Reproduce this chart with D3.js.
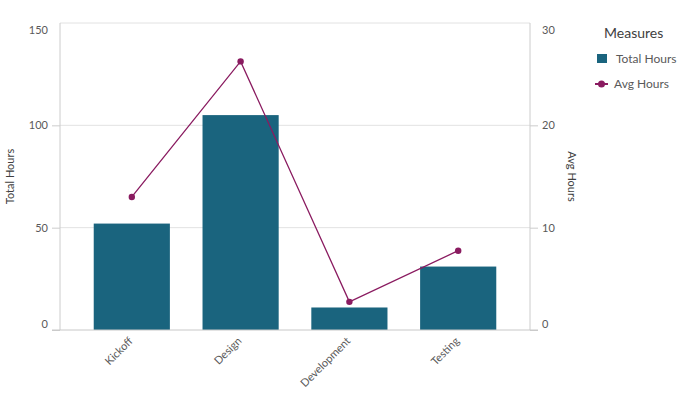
<!DOCTYPE html>
<html>
<head>
<meta charset="utf-8">
<script src="https://cdn.jsdelivr.net/npm/d3@7"></script>
<style>
  body { margin: 0; background: #fff; }
  text { font-family: Lato, "Open Sans", sans-serif; }
</style>
</head>
<body>
<div id="chart"></div>
<script>
// data
const phases = ["Kickoff", "Design", "Development", "Testing"];
const totalHours = [52, 105, 11, 31];
const avgHours = [13, 26.25, 2.75, 7.75];
const leftTicks = [0, 50, 100, 150];
const rightTicks = [0, 10, 20, 30];

const W = 688, H = 395;
const plot = { left: 60, right: 530, top: 23, bottom: 330 };

const barColor = "#1a647e";
const lineColor = "#8a1b60";

const svg = d3.select("#chart")
    .append("svg")
    .attr("width", W)
    .attr("height", H);

const x = d3.scaleBand()
    .domain(phases)
    .range([plot.left, plot.right])
    .paddingInner(0.3)
    .paddingOuter(0.31);

const yL = d3.scaleLinear().domain([0, 150]).range([plot.bottom, plot.top]);
const yR = d3.scaleLinear().domain([0, 30]).range([plot.bottom, plot.top]);

// gridlines
svg.append("g")
    .selectAll("line")
    .data([50, 100, 150])
    .join("line")
    .attr("x1", plot.left).attr("x2", plot.right)
    .attr("y1", d => yL(d)).attr("y2", d => yL(d))
    .attr("stroke", "#e2e2e2");

// frame sides
svg.append("line")
    .attr("x1", plot.left).attr("x2", plot.left)
    .attr("y1", plot.top).attr("y2", plot.bottom)
    .attr("stroke", "#cccccc");
svg.append("line")
    .attr("x1", plot.right).attr("x2", plot.right)
    .attr("y1", plot.top).attr("y2", plot.bottom)
    .attr("stroke", "#cccccc");

// axes
function styleAxis(g) {
    g.select(".domain").remove();
    g.selectAll(".tick line").attr("stroke", "#cccccc");
    g.selectAll(".tick text")
        .attr("fill", "#595959")
        .style("font-size", "11px")
        .attr("dy", (d, i, n) => i === 0 ? "-0.25em" : (i === n.length - 1 ? "0.95em" : "0.32em"));
    g.selectAll(".tick").filter((d, i, n) => i === n.length - 1).select("line").remove();
}

svg.append("g")
    .attr("transform", `translate(${plot.left},0)`)
    .call(d3.axisLeft(yL).tickValues(leftTicks).tickSize(8).tickPadding(4))
    .call(styleAxis);

svg.append("g")
    .attr("transform", `translate(${plot.right},0)`)
    .call(d3.axisRight(yR).tickValues(rightTicks).tickSize(8).tickPadding(4))
    .call(styleAxis);

// bars
svg.append("g")
    .selectAll("rect")
    .data(phases)
    .join("rect")
    .attr("x", d => x(d))
    .attr("width", x.bandwidth())
    .attr("y", (d, i) => yL(totalHours[i]))
    .attr("height", (d, i) => yL(0) - yL(totalHours[i]))
    .attr("fill", barColor);

// bottom axis line
svg.append("line")
    .attr("x1", plot.left - 8).attr("x2", plot.right + 8)
    .attr("y1", plot.bottom).attr("y2", plot.bottom)
    .attr("stroke", "#c8c8c8");

// x labels
svg.append("g")
    .selectAll("text")
    .data(phases)
    .join("text")
    .attr("transform", d => `translate(${x(d) + x.bandwidth() / 2 - 1},${plot.bottom + 9}) rotate(-45)`)
    .attr("text-anchor", "end")
    .attr("dy", "0.35em")
    .attr("fill", "#595959")
    .style("font-size", "11px")
    .text(d => d);

// line
const line = d3.line()
    .x(d => x(d[0]) + x.bandwidth() / 2)
    .y(d => yR(d[1]));
const pts = phases.map((p, i) => [p, avgHours[i]]);

svg.append("path")
    .datum(pts)
    .attr("d", line)
    .attr("fill", "none")
    .attr("stroke", lineColor)
    .attr("stroke-width", 1.3);

svg.append("g")
    .selectAll("circle")
    .data(pts)
    .join("circle")
    .attr("cx", d => x(d[0]) + x.bandwidth() / 2)
    .attr("cy", d => yR(d[1]))
    .attr("r", 3.2)
    .attr("fill", lineColor);

// axis titles
const midY = (plot.top + plot.bottom) / 2;
svg.append("text")
    .attr("transform", `translate(14,${midY}) rotate(-90)`)
    .attr("text-anchor", "middle")
    .attr("fill", "#404040")
    .style("font-size", "11px")
    .text("Total Hours");

svg.append("text")
    .attr("transform", `translate(568,${midY}) rotate(90)`)
    .attr("text-anchor", "middle")
    .attr("fill", "#404040")
    .style("font-size", "11px")
    .text("Avg Hours");

// legend
const legend = svg.append("g");
legend.append("text")
    .attr("x", 604).attr("y", 38)
    .attr("fill", "#404040")
    .style("font-size", "14px")
    .text("Measures");

legend.append("rect")
    .attr("x", 597).attr("y", 54)
    .attr("width", 10).attr("height", 9)
    .attr("fill", barColor);
legend.append("text")
    .attr("x", 616).attr("y", 63)
    .attr("fill", "#595959")
    .style("font-size", "12px")
    .text("Total Hours");

legend.append("line")
    .attr("x1", 595).attr("x2", 608)
    .attr("y1", 84).attr("y2", 84)
    .attr("stroke", lineColor)
    .attr("stroke-width", 2);
legend.append("circle")
    .attr("cx", 601.5).attr("cy", 84)
    .attr("r", 3.5)
    .attr("fill", lineColor);
legend.append("text")
    .attr("x", 614).attr("y", 88)
    .attr("fill", "#595959")
    .style("font-size", "12px")
    .text("Avg Hours");
</script>
</body>
</html>
